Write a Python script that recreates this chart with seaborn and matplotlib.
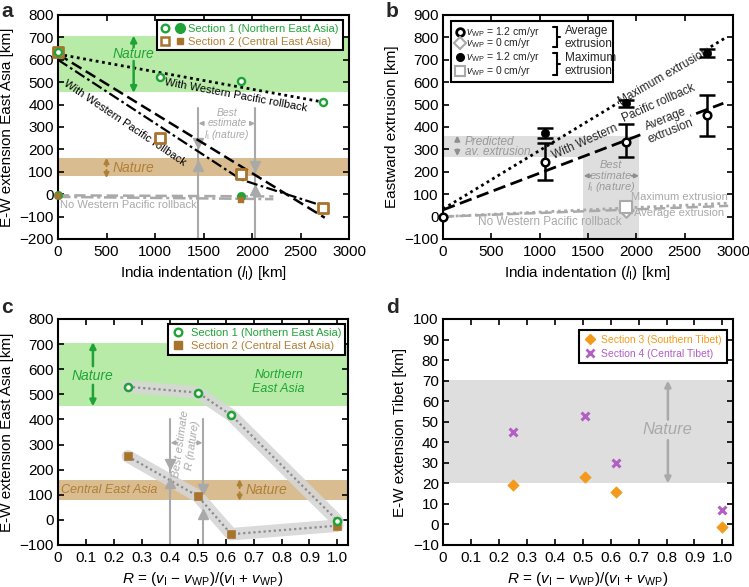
import matplotlib
matplotlib.use("Agg")
import matplotlib.pyplot as plt
import seaborn as sns
from matplotlib.lines import Line2D
from matplotlib.patches import Rectangle
from matplotlib.legend_handler import HandlerTuple

# ---------------- data ----------------
# panel a : E-W extension East Asia vs India indentation
a_indent = [0, 1050, 1890, 2730]
a_sec1_wp = [635, 525, 505, 410]
a_sec2_wp = [635, 250, 90, -60]
a_indent_nowp = [0, 1890]
a_sec1_nowp = [-5, -10]
a_sec2_nowp = [-8, -25]
a_dotted_x = [0, 2750]
a_dotted_y = [625, 410]
a_dashed_x = [0, 2750]
a_dashed_y = [625, -105]
a_dashdot_x = [0, 1890, 2750]
a_dashdot_y = [600, 65, -55]
a_nowp_x = [0, 2220]
a_nowp_dashed_y = [-5, -10]
a_nowp_dashdot_y = [-12, -22]
a_best_li = [1445, 2036]
a_tri_down = [228, 128]
a_tri_up = [124, 20]

# panel b : eastward extrusion
b_indent = [0, 1050, 1890, 2730]
b_avg = [0, 245, 335, 455]
b_avg_lo = [0, 165, 265, 360]
b_avg_hi = [0, 330, 415, 545]
b_max_x = [1050, 1890, 2730]
b_max = [372, 505, 730]
b_max_lo = [350, 490, 712]
b_max_hi = [395, 522, 750]
b_nowp_x = [1890]
b_nowp_avg = [30]
b_nowp_max = [45]
b_maxline_x = [0, 2914]
b_maxline_y = [34, 796]
b_avgline_x = [0, 2900]
b_avgline_y = [30, 506]
b_nowp_line_x = [0, 2950]
b_nowp_max_y = [0, 60]
b_nowp_avg_y = [0, 48]
b_best_li = [1450, 2030]
b_pred_band = [265, 360]

# panel c : E-W extension East Asia vs R
c_R = [0.25, 0.50, 0.62, 1.00]
c_sec1 = [530, 507, 417, -3]
c_sec2 = [253, 95, -57, -23]
c_best_R = [0.40, 0.52]
c_tri_down = [222, 125]
c_tri_up = [147, 22]

# panel d : E-W extension Tibet vs R
d_R = [0.25, 0.51, 0.62, 1.00]
d_sec3 = [19, 23, 16, -1]
d_sec4 = [45, 53, 30, 7]

# ---------------- style ----------------
sns.set_theme(style="ticks")
plt.rcParams.update({
    "font.family": ["Liberation Sans", "DejaVu Sans"],
    "mathtext.fontset": "custom",
    "mathtext.rm": "Liberation Sans",
    "mathtext.it": "Liberation Sans:italic",
    "mathtext.bf": "Liberation Sans:bold",
    "axes.linewidth": 1.5,
    "axes.edgecolor": "black",
    "axes.labelcolor": "black",
    "xtick.color": "black",
    "ytick.color": "black",
    "xtick.direction": "in",
    "ytick.direction": "in",
    "xtick.top": True,
    "ytick.right": True,
    "xtick.major.size": 4,
    "ytick.major.size": 4,
    "xtick.major.width": 1.2,
    "ytick.major.width": 1.2,
    "xtick.labelsize": 11,
    "ytick.labelsize": 11,
    "axes.labelsize": 11,
    "xtick.major.pad": 4,
    "ytick.major.pad": 3,
})

GREEN = "#1fa336"
GREEN_BAND = "#b9eba8"
BROWN = "#a8732c"
BROWN_TXT = "#b07f35"
BROWN_BAND = "#d9bc8f"
GRAY = "#a9a9a9"
GRAY_TXT = "#9a9a9a"
GRAY_BAND = "#dedede"
ORANGE = "#f39a1b"
PURPLE = "#b25ec4"

DOT = (0, (1, 1.3))
DASH = (0, (4.5, 2))
DASHDOT = (0, (5, 1.5, 1.2, 1.5))

fig = plt.figure(figsize=(7.49, 5.87), dpi=100)
W, H = 749, 587


def add_ax(l, t, r, b):
    return fig.add_axes([l / W, 1 - b / H, (r - l) / W, (b - t) / H])


def arrow(ax, tail, tip, color, lw=1.5, ms=9):
    ax.annotate("", xy=tip, xytext=tail,
                arrowprops=dict(arrowstyle="-|>", color=color, lw=lw,
                                mutation_scale=ms, shrinkA=0, shrinkB=0))


def frame_legend(leg):
    fr = leg.get_frame()
    fr.set_linewidth(1.5)
    fr.set_edgecolor("black")
    fr.set_alpha(1)


WHITE_BOX = dict(boxstyle="square,pad=0.05", fc="white", ec="none")

xl_indent = r"India indentation ($l_{\rm I}$) [km]"
xl_R = r"$R$ = ($v_{\rm I}$ $-$ $v_{\rm WP}$)/($v_{\rm I}$ + $v_{\rm WP}$)"

# ================= panel a =================
ax = add_ax(58, 15, 349, 239)
ax.axhspan(455, 705, color=GREEN_BAND, lw=0, zorder=0)
ax.axhspan(80, 160, color=BROWN_BAND, lw=0, zorder=0)

for x in a_best_li:
    ax.plot([x, x], [-200, 385], color=GRAY, lw=1.5, zorder=1)
ax.plot(a_best_li, a_tri_down, ls="none", marker="v", ms=6.5, color=GRAY, zorder=2)
ax.plot(a_best_li, a_tri_up, ls="none", marker="^", ms=6.5, color=GRAY, zorder=2)

sns.lineplot(x=a_nowp_x, y=a_nowp_dashed_y, ax=ax, color=GRAY, lw=1.8, linestyle=DASH, sort=False, zorder=2)
sns.lineplot(x=a_nowp_x, y=a_nowp_dashdot_y, ax=ax, color=GRAY, lw=1.8, linestyle=DASHDOT, sort=False, zorder=2)
sns.lineplot(x=a_dotted_x, y=a_dotted_y, ax=ax, color="black", lw=2, linestyle=DOT, sort=False, zorder=3)
sns.lineplot(x=a_dashed_x, y=a_dashed_y, ax=ax, color="black", lw=1.8, linestyle=DASH, sort=False, zorder=3)
sns.lineplot(x=a_dashdot_x, y=a_dashdot_y, ax=ax, color="black", lw=1.6, linestyle=DASHDOT, sort=False, zorder=3)

sns.scatterplot(x=a_indent, y=a_sec2_wp, ax=ax, marker="s", s=48, facecolor="white",
                edgecolor=BROWN, linewidth=2.0, zorder=4, clip_on=False)
sns.scatterplot(x=a_indent, y=a_sec1_wp, ax=ax, marker="o", s=26, facecolor="white",
                edgecolor=GREEN, linewidth=1.7, zorder=5, clip_on=False)
sns.scatterplot(x=a_indent_nowp, y=a_sec1_nowp, ax=ax, marker="o", s=36, color=GREEN,
                edgecolor=GREEN, zorder=4, clip_on=False)
sns.scatterplot(x=a_indent_nowp, y=a_sec2_nowp, ax=ax, marker="s", s=14, color=BROWN,
                edgecolor=BROWN, zorder=5, clip_on=False)

ax.text(780, 625, "Nature", color=GREEN, style="italic", fontsize=10, ha="center", va="center")
arrow(ax, (780, 655), (780, 708), GREEN, lw=1.8)
arrow(ax, (780, 595), (780, 452), GREEN, lw=1.8)
ax.text(560, 117, "Nature", color=BROWN_TXT, style="italic", fontsize=10, ha="left", va="center")
arrow(ax, (500, 125), (500, 162), BROWN_TXT, lw=1.5, ms=7)
arrow(ax, (500, 108), (500, 72), BROWN_TXT, lw=1.5, ms=7)

ax.text(20, -47, "No Western Pacific rollback", color=GRAY, fontsize=8, ha="left", va="center")
ax.text(1830, 443, "With Western Pacific rollback", color="black", fontsize=8,
        rotation=-10.5, ha="center", va="center", rotation_mode="anchor")
ax.text(690, 318, "With Western Pacific rollback", color="black", fontsize=8,
        rotation=-34, ha="center", va="center", rotation_mode="anchor")
ax.text(1740, 362, "Best", color=GRAY, style="italic", fontsize=7.5, ha="center", va="center")
ax.text(1740, 316, "estimate", color=GRAY, style="italic", fontsize=7.5, ha="center", va="center")
ax.text(1740, 266, r"$l_{\rm I}$ (nature)", color=GRAY, style="italic", fontsize=7.5, ha="center", va="center")
arrow(ax, (1500, 316), (1450, 316), GRAY, lw=1.2, ms=6)
arrow(ax, (1980, 316), (2031, 316), GRAY, lw=1.2, ms=6)

h1 = (Line2D([], [], ls="none", marker="o", mfc="white", mec=GREEN, mew=1.7, ms=5.5),
      Line2D([], [], ls="none", marker="o", mfc=GREEN, mec=GREEN, ms=7))
h2 = (Line2D([], [], ls="none", marker="s", mfc="white", mec=BROWN, mew=1.8, ms=6),
      Line2D([], [], ls="none", marker="s", mfc=BROWN, mec=BROWN, ms=4.5))
leg = ax.legend([h1, h2], ["Section 1 (Northern East Asia)", "Section 2 (Central East Asia)"],
                handler_map={tuple: HandlerTuple(ndivide=None, pad=0.5)},
                loc="upper right", bbox_to_anchor=(0.978, 0.978), borderaxespad=0,
                fancybox=False, fontsize=8, handlelength=2.2, handletextpad=0.3,
                labelcolor=[GREEN, BROWN_TXT], borderpad=0.35, labelspacing=0.25)
frame_legend(leg)

ax.set_xlim(0, 3000)
ax.set_ylim(-200, 800)
ax.set_xticks(range(0, 3001, 500))
ax.set_yticks(range(-200, 801, 100))
ax.set_xlabel(xl_indent)
ax.set_ylabel("E-W extension East Asia [km]")

# ================= panel b =================
ax = add_ax(443, 15, 733, 239)
ax.fill_between([0, b_best_li[0]], b_pred_band[0], b_pred_band[1], color=GRAY_BAND, lw=0, zorder=0)
ax.fill_between(b_best_li, -100, b_pred_band[1], color=GRAY_BAND, lw=0, zorder=0)

sns.lineplot(x=b_nowp_line_x, y=b_nowp_max_y, ax=ax, color=GRAY, lw=2, linestyle=DOT, sort=False, zorder=2)
sns.lineplot(x=b_nowp_line_x, y=b_nowp_avg_y, ax=ax, color=GRAY, lw=1.8, linestyle=DASH, sort=False, zorder=2)
sns.lineplot(x=b_maxline_x, y=b_maxline_y, ax=ax, color="black", lw=2, linestyle=DOT, sort=False, zorder=2)
sns.lineplot(x=b_avgline_x, y=b_avgline_y, ax=ax, color="black", lw=2, linestyle=DASH, sort=False, zorder=2)

ax.errorbar(b_indent[1:], b_avg[1:],
            yerr=[[m - lo for m, lo in zip(b_avg[1:], b_avg_lo[1:])],
                  [hi - m for m, hi in zip(b_avg[1:], b_avg_hi[1:])]],
            fmt="none", ecolor="black", elinewidth=1.8, capsize=6, capthick=1.8, zorder=3)
ax.errorbar(b_max_x, b_max,
            yerr=[[m - lo for m, lo in zip(b_max, b_max_lo)],
                  [hi - m for m, hi in zip(b_max, b_max_hi)]],
            fmt="none", ecolor="black", elinewidth=1.8, capsize=6, capthick=1.8, zorder=3)
sns.scatterplot(x=b_indent, y=b_avg, ax=ax, marker="o", s=30, facecolor="white",
                edgecolor="black", linewidth=1.8, zorder=4, clip_on=False)
sns.scatterplot(x=b_max_x, y=b_max, ax=ax, marker="o", s=36, color="black",
                edgecolor="black", zorder=4, clip_on=False)
sns.scatterplot(x=b_nowp_x, y=b_nowp_avg, ax=ax, marker="D", s=55, facecolor="white",
                edgecolor=GRAY, linewidth=1.5, zorder=4)
sns.scatterplot(x=b_nowp_x, y=b_nowp_max, ax=ax, marker="s", s=70, facecolor="white",
                edgecolor=GRAY, linewidth=1.5, zorder=4)

ax.text(225, 335, "Predicted", color=GRAY_TXT, style="italic", fontsize=8.5, ha="left", va="center")
ax.text(225, 290, "av. extrusion", color=GRAY_TXT, style="italic", fontsize=8.5, ha="left", va="center")
arrow(ax, (148, 335), (148, 362), "#8f8f8f", lw=1.5, ms=7)
arrow(ax, (148, 300), (148, 270), "#8f8f8f", lw=1.5, ms=7)
ax.text(1740, 230, "Best", color=GRAY_TXT, style="italic", fontsize=8, ha="center", va="center")
ax.text(1740, 182, "estimate", color=GRAY_TXT, style="italic", fontsize=8, ha="center", va="center")
ax.text(1740, 131, r"$l_{\rm I}$ (nature)", color=GRAY_TXT, style="italic", fontsize=8, ha="center", va="center")
arrow(ax, (1530, 182), (1455, 182), "#8f8f8f", lw=1.3, ms=6)
arrow(ax, (1950, 182), (2028, 182), "#8f8f8f", lw=1.3, ms=6)

ax.text(2280, 626, "Maximum extrusion", fontsize=8.5, rotation=30, ha="center", va="center",
        rotation_mode="anchor", bbox=WHITE_BOX, zorder=2.5)
ax.text(1466, 335, "With Western", fontsize=8.5, rotation=24, ha="center", va="center",
        rotation_mode="anchor")
ax.text(2230, 505, "Pacific rollback", fontsize=8.5, rotation=24, ha="center", va="center",
        rotation_mode="anchor")
ax.text(2326, 408, "Average\nextrusion", fontsize=8.5, rotation=22, ha="center", va="center",
        rotation_mode="anchor", linespacing=1.0, bbox=WHITE_BOX, zorder=2.5)
ax.text(2450, 86, "Maximum extrusion", color=GRAY, fontsize=8, ha="center", va="center")
ax.text(2440, 17, "Average extrusion", color=GRAY, fontsize=8, ha="center", va="center")
ax.text(1110, -22, "No Western Pacific rollback", color=GRAY, fontsize=8.5, ha="center", va="center")

# manual legend for panel b
T = ax.transAxes
ax.add_patch(Rectangle((0.026, 0.703), 0.56, 0.272, transform=T, fc="white", ec="black",
                       lw=1.5, zorder=10))
rows = [0.926, 0.874, 0.811, 0.752]
mk = [dict(marker="o", mfc="white", mec="black", mew=2, ms=5.5),
      dict(marker="D", mfc="white", mec=GRAY, mew=1.5, ms=6),
      dict(marker="o", mfc="black", mec="black", ms=5.5),
      dict(marker="s", mfc="white", mec=GRAY, mew=1.5, ms=6.5)]
labs = [r"$v_{\rm WP}$ = 1.2 cm/yr", r"$v_{\rm WP}$ = 0 cm/yr",
        r"$v_{\rm WP}$ = 1.2 cm/yr", r"$v_{\rm WP}$ = 0 cm/yr"]
for yy, m, lab in zip(rows, mk, labs):
    ax.plot([0.057], [yy], ls="none", transform=T, clip_on=False, zorder=11, **m)
    ax.text(0.08, yy, lab, transform=T, fontsize=7.5, ha="left", va="center", zorder=11)
for (y0, y1) in [(0.856, 0.945), (0.733, 0.829)]:
    xv = 0.393
    ax.plot([0.381, xv, xv, 0.381], [y1, y1, y0, y0], color="black", lw=1.5,
            transform=T, clip_on=False, zorder=11, solid_joinstyle="miter")
    ax.plot([xv, 0.405], [(y0 + y1) / 2] * 2, color="black", lw=1.5, transform=T,
            clip_on=False, zorder=11)
ax.text(0.42, 0.899, "Average\nextrusion", transform=T, fontsize=8.5, ha="left", va="center",
        linespacing=1.05, zorder=11)
ax.text(0.42, 0.779, "Maximum\nextrusion", transform=T, fontsize=8.5, ha="left", va="center",
        linespacing=1.05, zorder=11)

ax.set_xlim(0, 3000)
ax.set_ylim(-100, 900)
ax.set_xticks(range(0, 3001, 500))
ax.set_yticks(range(-100, 901, 100))
ax.set_xlabel(xl_indent)
ax.set_ylabel("Eastward extrusion [km]")

# ================= panel c =================
ax = add_ax(58, 319, 348, 545)
ax.axhspan(455, 705, color=GREEN_BAND, lw=0, zorder=0)
ax.axhspan(80, 160, color=BROWN_BAND, lw=0, zorder=0)

for x in c_best_R:
    ax.plot([x, x], [-100, 402], color=GRAY, lw=1.5, zorder=1)

for yv in (c_sec1, c_sec2):
    sns.lineplot(x=c_R, y=yv, ax=ax, color="#d6d6d6", lw=9, sort=False, zorder=2,
                 solid_capstyle="round", solid_joinstyle="round", alpha=0.9)
    sns.lineplot(x=c_R, y=yv, ax=ax, color="#8c8c8c", lw=1.6, linestyle=DOT, sort=False, zorder=3)

ax.plot(c_best_R, c_tri_down, ls="none", marker="v", ms=6.5, color=GRAY, zorder=4)
ax.plot(c_best_R, c_tri_up, ls="none", marker="^", ms=6.5, color=GRAY, zorder=4)

sns.scatterplot(x=c_R, y=c_sec2, ax=ax, marker="s", s=30, color=BROWN, edgecolor=BROWN,
                zorder=5, clip_on=False)
sns.scatterplot(x=c_R, y=c_sec1, ax=ax, marker="o", s=26, facecolor="white", edgecolor=GREEN,
                linewidth=1.8, zorder=6, clip_on=False)

ax.text(0.125, 574, "Nature", color=GREEN, style="italic", fontsize=10, ha="center", va="center")
arrow(ax, (0.125, 612), (0.125, 708), GREEN, lw=1.8)
arrow(ax, (0.125, 538), (0.125, 452), GREEN, lw=1.8)
ax.text(0.79, 550, "Northern\nEast Asia", color=GREEN, style="italic", fontsize=9,
        ha="center", va="center", linespacing=1.2)
ax.text(0.182, 119, "Central East Asia", color=BROWN_TXT, style="italic", fontsize=9,
        ha="center", va="center")
ax.text(0.672, 119, "Nature", color=BROWN_TXT, style="italic", fontsize=10, ha="left", va="center")
arrow(ax, (0.65, 127), (0.65, 162), BROWN_TXT, lw=1.5, ms=7)
arrow(ax, (0.65, 110), (0.65, 76), BROWN_TXT, lw=1.5, ms=7)

ax.text(0.463, 298, "Best estimate\n$R$ (nature)", color=GRAY, style="italic", fontsize=8,
        rotation=82, ha="center", va="center", rotation_mode="anchor", linespacing=1.0)
arrow(ax, (0.425, 307), (0.403, 307), GRAY, lw=1.2, ms=6)
arrow(ax, (0.495, 307), (0.517, 307), GRAY, lw=1.2, ms=6)

hc = [Line2D([], [], ls="none", marker="o", mfc="white", mec=GREEN, mew=1.7, ms=5.5),
      Line2D([], [], ls="none", marker="s", mfc=BROWN, mec=BROWN, ms=5.5)]
leg = ax.legend(hc, ["Section 1 (Northern East Asia)", "Section 2 (Central East Asia)"],
                loc="upper right", bbox_to_anchor=(0.99, 0.978), borderaxespad=0,
                fancybox=False, fontsize=8, handlelength=1.2, handletextpad=0.5,
                labelcolor=[GREEN, BROWN_TXT], borderpad=0.35, labelspacing=0.25)
frame_legend(leg)

ax.set_xlim(0, 1.038)
ax.set_ylim(-100, 800)
cx = [i / 10 for i in range(11)]
ax.set_xticks(cx)
ax.set_xticklabels(["0"] + [f"{v:.1f}" for v in cx[1:]])
ax.set_yticks(range(-100, 801, 100))
ax.set_xlabel(xl_R)
ax.set_ylabel("E-W extension East Asia [km]")

# ================= panel d =================
ax = add_ax(443, 319, 733, 545)
ax.axhspan(20, 70.5, color=GRAY_BAND, lw=0, zorder=0)
ax.text(0.805, 46, "Nature", color=GRAY, style="italic", fontsize=12, ha="center", va="center")
arrow(ax, (0.805, 51), (0.805, 70), GRAY, lw=1.8)
arrow(ax, (0.805, 41), (0.805, 20), GRAY, lw=1.8)

sns.scatterplot(x=d_R, y=d_sec3, ax=ax, marker="D", s=34, color=ORANGE, edgecolor=ORANGE,
                zorder=4, clip_on=False)
sns.scatterplot(x=d_R, y=d_sec4, ax=ax, marker="x", s=32, color=PURPLE, linewidth=2.2,
                zorder=4, clip_on=False)

hd = [Line2D([], [], ls="none", marker="D", mfc=ORANGE, mec=ORANGE, ms=5.5),
      Line2D([], [], ls="none", marker="x", mec=PURPLE, mew=2, ms=6)]
leg = ax.legend(hd, ["Section 3 (Southern Tibet)", "Section 4 (Central Tibet)"],
                loc="upper right", bbox_to_anchor=(0.978, 0.95), borderaxespad=0,
                fancybox=False, fontsize=7.5, handlelength=1.2, handletextpad=0.5,
                labelcolor=[ORANGE, PURPLE], borderpad=0.45, labelspacing=0.35)
frame_legend(leg)

ax.set_xlim(0, 1.038)
ax.set_ylim(-10, 100)
ax.set_xticks(cx)
ax.set_xticklabels(["0"] + [f"{v:.1f}" for v in cx[1:]])
ax.set_yticks(range(-10, 101, 10))
ax.set_xlabel(xl_R)
ax.set_ylabel("E-W extension Tibet [km]")

# panel letters
fig.text(1 / W, 1 - 2 / H, "a", fontsize=15, fontweight="bold", va="top", ha="left")
fig.text(386 / W, 1 - 2 / H, "b", fontsize=15, fontweight="bold", va="top", ha="left")
fig.text(1 / W, 1 - 298 / H, "c", fontsize=15, fontweight="bold", va="top", ha="left")
fig.text(386 / W, 1 - 298 / H, "d", fontsize=15, fontweight="bold", va="top", ha="left")

fig.savefig("out.png", dpi=100)
